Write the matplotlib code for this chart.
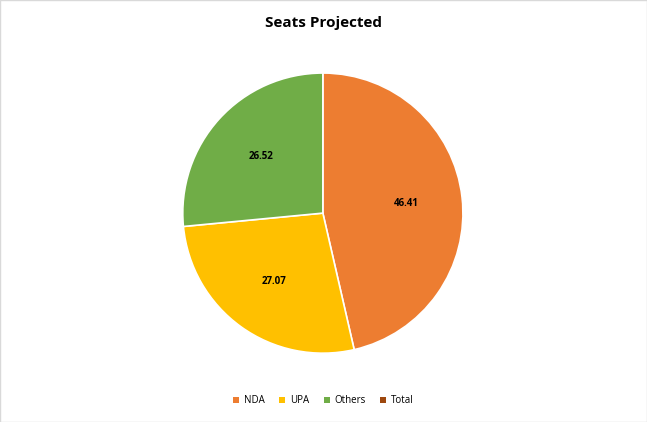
import matplotlib
matplotlib.use("Agg")
import matplotlib.pyplot as plt
from matplotlib.patches import Patch, Rectangle

labels = ["NDA", "UPA", "Others", "Total"]
values = [46.41, 27.07, 26.52]
colors = ["#ED7D31", "#FFC000", "#70AD47", "#9E480E"]

plt.rcParams['font.family'] = ['Open Sans', 'DejaVu Sans']

fig = plt.figure(figsize=(6.47, 4.22), dpi=100)
fig.patches.append(Rectangle((0, 0), 1, 1, transform=fig.transFigure,
                             fill=False, edgecolor="#D9D9D9", linewidth=1))

w, h = 0.433 * 1.25, 0.664 * 1.25
ax = fig.add_axes([0.499 - w / 2, 0.495 - h / 2, w, h])
ax.pie(values, colors=colors[:3], startangle=90, counterclock=False,
       autopct=lambda p: "%.2f" % (p * sum(values) / 100), pctdistance=0.6,
       wedgeprops=dict(edgecolor="white", linewidth=1.2),
       textprops=dict(fontsize=7, color="black", fontweight="bold"))
ax.set_aspect("equal")

fig.text(0.5, 0.945, "Seats Projected", ha="center", va="center",
         fontsize=11, fontweight="bold")

handles = [Patch(facecolor=c) for c in colors]
fig.legend(handles, labels, loc="center", bbox_to_anchor=(0.5, 0.05), ncol=4,
           frameon=False, fontsize=7, handlelength=0.6, handleheight=0.6,
           handletextpad=0.5, columnspacing=1.5)

fig.savefig("out.png", dpi=100)
